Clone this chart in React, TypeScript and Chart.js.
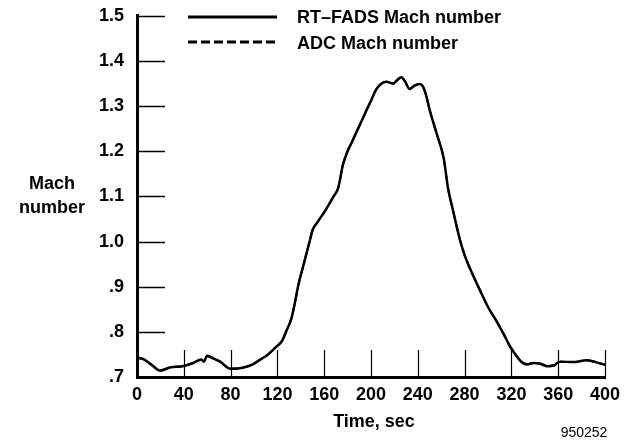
import React, { useEffect, useRef } from "react";
import { Chart, registerables } from "chart.js";

Chart.register(...registerables);

// Time (sec) and Mach number readings
const fadsTime = [0, 5, 12, 20, 28, 39, 48, 55, 57, 60, 66, 71, 80, 86, 91, 99, 105, 112, 119, 124, 128, 132, 135, 138, 142, 148, 150, 154, 160, 164, 168, 172, 176, 180, 184, 188, 192, 196, 200, 204, 208, 213, 219, 222, 226, 229, 233, 237, 241, 244, 247, 250, 256, 262, 266, 270, 276, 280, 285, 293, 300, 307, 313, 319, 324, 328, 333, 339, 344, 351, 357, 359, 362, 373, 384, 392, 400];
const fadsMach = [0.743, 0.740, 0.728, 0.714, 0.721, 0.724, 0.731, 0.739, 0.734, 0.747, 0.740, 0.734, 0.718, 0.719, 0.721, 0.728, 0.738, 0.750, 0.767, 0.780, 0.804, 0.830, 0.865, 0.905, 0.945, 1.005, 1.025, 1.042, 1.065, 1.082, 1.100, 1.119, 1.170, 1.200, 1.222, 1.245, 1.267, 1.290, 1.312, 1.335, 1.348, 1.354, 1.350, 1.357, 1.364, 1.355, 1.338, 1.345, 1.349, 1.345, 1.325, 1.293, 1.240, 1.186, 1.116, 1.070, 1.004, 0.970, 0.938, 0.893, 0.855, 0.825, 0.797, 0.767, 0.748, 0.735, 0.728, 0.731, 0.730, 0.724, 0.726, 0.731, 0.734, 0.733, 0.737, 0.733, 0.727];

const adcTime = [0, 5, 12, 20, 28, 39, 48, 55, 57, 60, 66, 71, 80, 86, 91, 99, 105, 112, 119, 124, 128, 132, 135, 138, 142, 148, 150, 154, 160, 164, 168, 172, 176, 180, 184, 188, 192, 196, 200, 204, 208, 213, 219, 222, 226, 229, 233, 237, 241, 244, 247, 250, 256, 262, 266, 270, 276, 280, 285, 293, 300, 307, 313, 319, 324, 328, 333, 339, 344, 351, 357, 359, 362, 373, 384, 392, 400];
const adcMach = [0.743, 0.740, 0.728, 0.715, 0.721, 0.724, 0.731, 0.738, 0.735, 0.746, 0.740, 0.734, 0.719, 0.719, 0.721, 0.728, 0.738, 0.750, 0.767, 0.781, 0.804, 0.830, 0.865, 0.905, 0.945, 1.005, 1.025, 1.042, 1.065, 1.082, 1.100, 1.119, 1.170, 1.200, 1.222, 1.245, 1.267, 1.290, 1.312, 1.335, 1.348, 1.354, 1.350, 1.356, 1.363, 1.355, 1.339, 1.345, 1.348, 1.345, 1.325, 1.293, 1.240, 1.186, 1.116, 1.070, 1.004, 0.970, 0.938, 0.893, 0.855, 0.825, 0.797, 0.767, 0.748, 0.735, 0.728, 0.731, 0.730, 0.724, 0.726, 0.731, 0.734, 0.733, 0.737, 0.733, 0.727];

const xTicks = [0, 40, 80, 120, 160, 200, 240, 280, 320, 360, 400];
const yTicks = [0.7, 0.8, 0.9, 1.0, 1.1, 1.2, 1.3, 1.4, 1.5];

const seriesLabels = ["RT\u2013FADS Mach number", "ADC Mach number"];
const yTitle = ["Mach", "number"];
const xTitle = "Time, sec";
const figureId = "950252";

const FONT = '"Liberation Sans", Arial, Helvetica, sans-serif';

const fmtY = (v: number) => {
  const r = Math.round(v * 10) / 10;
  return r >= 1 ? r.toFixed(1) : "." + Math.round(r * 10);
};

const decorPlugin = {
  id: "decor",
  afterDraw(chart: any) {
    const { ctx, chartArea, scales } = chart;
    const xs = scales.x;
    const ys = scales.y;
    ctx.save();
    ctx.strokeStyle = "#000";
    // inward y ticks
    ctx.lineWidth = 1.5;
    yTicks.forEach((v) => {
      if (v === yTicks[0]) return;
      const py = Math.round(ys.getPixelForValue(v)) + 0.5;
      ctx.beginPath();
      ctx.moveTo(chartArea.left, py);
      ctx.lineTo(chartArea.left + 28, py);
      ctx.stroke();
    });
    // inward x ticks
    ctx.lineWidth = 1.2;
    xTicks.forEach((v) => {
      if (v === xTicks[0]) return;
      const px = Math.round(xs.getPixelForValue(v)) + 0.5;
      ctx.beginPath();
      ctx.moveTo(px, chartArea.bottom);
      ctx.lineTo(px, chartArea.bottom - 27);
      ctx.stroke();
    });
    // legend
    ctx.lineWidth = 3;
    ctx.beginPath();
    ctx.moveTo(188, 17);
    ctx.lineTo(277, 17);
    ctx.stroke();
    ctx.setLineDash([9, 4]);
    ctx.beginPath();
    ctx.moveTo(188, 42);
    ctx.lineTo(277, 42);
    ctx.stroke();
    ctx.setLineDash([]);
    ctx.fillStyle = "#000";
    ctx.font = `bold 18px ${FONT}`;
    ctx.textAlign = "left";
    ctx.textBaseline = "middle";
    ctx.fillText(seriesLabels[0], 297, 18);
    ctx.fillText(seriesLabels[1], 297, 44);
    // y title
    ctx.textAlign = "center";
    ctx.fillText(yTitle[0], 52, 184);
    ctx.fillText(yTitle[1], 52, 208);
    // x title
    ctx.fillText(xTitle, 374, 422);
    // figure id
    ctx.font = `14px ${FONT}`;
    ctx.fillText(figureId, 584, 433);
    ctx.restore();
  },
};

export default function App() {
  const ref = useRef<HTMLCanvasElement | null>(null);
  useEffect(() => {
    const canvas = ref.current;
    if (!canvas) return;
    const chart = new Chart(canvas, {
      type: "line",
      data: {
        datasets: [
          {
            label: seriesLabels[1],
            data: adcTime.map((t, i) => ({ x: t, y: adcMach[i] })),
            borderColor: "#000",
            borderWidth: 2,
            borderDash: [9, 4],
            pointRadius: 0,
            cubicInterpolationMode: "monotone",
          },
          {
            label: seriesLabels[0],
            data: fadsTime.map((t, i) => ({ x: t, y: fadsMach[i] })),
            borderColor: "#000",
            borderWidth: 2.5,
            pointRadius: 0,
            cubicInterpolationMode: "monotone",
          },
        ],
      },
      options: {
        animation: false,
        responsive: false,
        layout: { padding: { left: 0, right: 24, top: 12, bottom: 0 } },
        plugins: { legend: { display: false }, tooltip: { enabled: false }, title: { display: false } },
        scales: {
          x: {
            type: "linear",
            min: 0,
            max: 400,
            afterFit: (s: any) => {
              s.height = 66;
            },
            afterBuildTicks: (s: any) => {
              s.ticks = xTicks.map((v) => ({ value: v }));
            },
            ticks: {
              color: "#000",
              padding: -1,
              font: { family: FONT, size: 18, weight: "bold" },
              maxRotation: 0,
              autoSkip: false,
            },
            grid: { display: false },
            border: { display: true, color: "#000", width: 3 },
          },
          y: {
            type: "linear",
            min: 0.7,
            max: 1.5,
            afterFit: (s: any) => {
              s.width = 137;
            },
            afterBuildTicks: (s: any) => {
              s.ticks = yTicks.map((v) => ({ value: v }));
            },
            ticks: {
              color: "#000",
              padding: 5,
              font: { family: FONT, size: 18, weight: "bold" },
              callback: (v: any) => fmtY(Number(v)),
              autoSkip: false,
            },
            grid: { display: false },
            border: { display: true, color: "#000", width: 3 },
          },
        },
      },
      plugins: [decorPlugin],
    });
    return () => chart.destroy();
  }, []);
  return (
    <div style={{ position: "absolute", left: 0, top: 0, width: 629, height: 443, background: "#fff" }}>
      <canvas ref={ref} width={629} height={443} style={{ display: "block", width: 629, height: 443 }} />
    </div>
  );
}
